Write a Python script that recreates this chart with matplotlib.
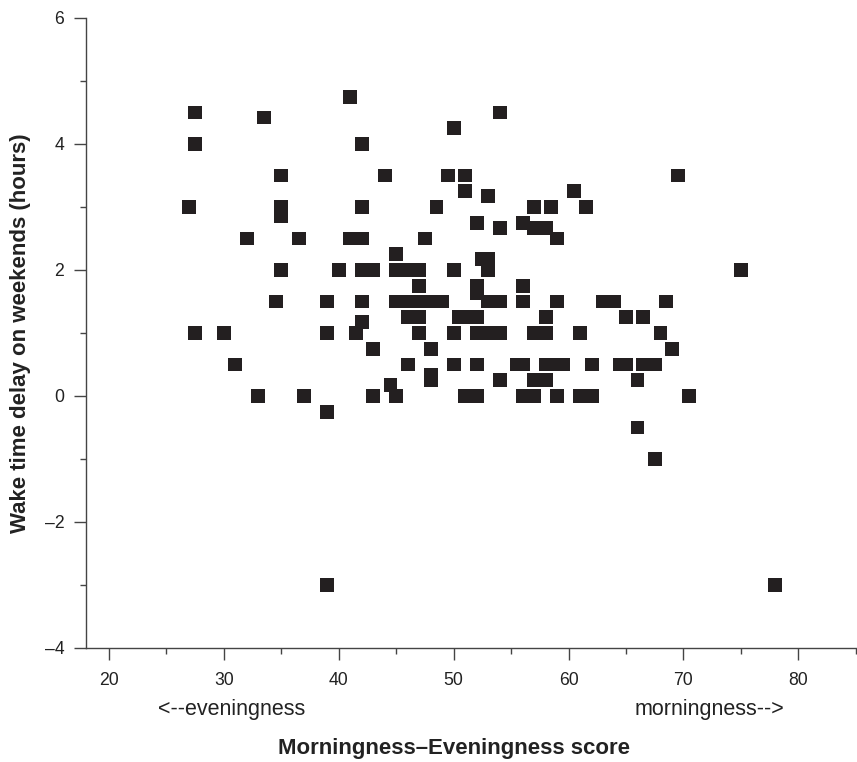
import matplotlib
matplotlib.use('Agg')
import matplotlib.pyplot as plt
from matplotlib.ticker import MultipleLocator

plt.rcParams['font.family'] = ['Liberation Sans', 'DejaVu Sans']

# Morningness-Eveningness score and weekend wake time delay, read row by row
me_score = [41,
            27.5, 54,
            33.5,
            50,
            27.5, 42,
            35, 44, 49.5, 51, 69.5,
            51, 60.5,
            53,
            27, 35, 42, 48.5, 57, 58.5, 61.5,
            35,
            52, 56,
            54, 57, 58,
            32, 36.5, 41, 42, 47.5, 59,
            45,
            52.5, 53,
            35, 40, 42, 43, 45, 46, 47, 50, 53, 75,
            47, 52, 56,
            52,
            34.5, 39, 42, 45, 46, 47, 48, 49, 53, 54, 56, 59, 63, 64, 68.5,
            46, 47, 50.5, 51.25, 52, 58, 65, 66.5,
            42,
            27.5, 30, 39, 41.5, 47, 50, 52, 53, 54, 57, 58, 61, 68,
            43, 48, 69,
            31, 46, 50, 52, 55.5, 56, 58, 58.75, 59.5, 62, 64.5, 65, 66.5, 67.5,
            48,
            48, 54, 57, 58, 66,
            44.5,
            33, 37, 43, 45, 51, 52, 56, 57, 59, 61, 62, 70.5,
            39,
            66,
            67.5,
            39, 78]

wake_delay = ([4.75] + [4.5] * 2 + [4.42] + [4.25] + [4.0] * 2 + [3.5] * 5
              + [3.25] * 2 + [3.17] + [3.0] * 7 + [2.85] + [2.75] * 2
              + [2.67] * 3 + [2.5] * 6 + [2.25] + [2.17] * 2 + [2.0] * 10
              + [1.75] * 3 + [1.63] + [1.5] * 15 + [1.25] * 8 + [1.18]
              + [1.0] * 13 + [0.75] * 3 + [0.5] * 14 + [0.33] + [0.25] * 5
              + [0.17] + [0.0] * 12 + [-0.25] + [-0.5] + [-1.0] + [-3.0] * 2)

x_ticks = [20, 30, 40, 50, 60, 70, 80]
y_ticks = [-4, -2, 0, 2, 4, 6]

fig = plt.figure(figsize=(8.57, 7.62), dpi=100)
ax = fig.add_axes([86 / 857, 114 / 762, 771 / 857, 630 / 762])

ax.scatter(me_score, wake_delay, marker='s', s=100, color='#231f20',
           edgecolors='none', zorder=3, clip_on=False)

ax.set_xlim(18, 85.1)
ax.set_ylim(-4, 6)
ax.set_xticks(x_ticks)
ax.set_yticks(y_ticks)
ax.xaxis.set_minor_locator(MultipleLocator(5))
ax.yaxis.set_minor_locator(MultipleLocator(1))
ax.yaxis.set_major_formatter(plt.FuncFormatter(lambda v, p: f'{v:.0f}'.replace('-', '\u2013')))

for s in ['top', 'right']:
    ax.spines[s].set_visible(False)
for s in ['left', 'bottom']:
    ax.spines[s].set_color('#444444')
    ax.spines[s].set_linewidth(1.0)

ax.tick_params(which='major', direction='out', length=8.6, width=1.0,
               color='#444444', labelsize=12.7, labelcolor='#222222')
ax.tick_params(which='minor', direction='out', length=4.3, width=1.0,
               color='#444444')
ax.tick_params(axis='x', which='major', pad=9)
ax.tick_params(axis='y', which='major', pad=7)

ax.set_ylabel('Wake time delay on weekends (hours)', fontsize=16,
              fontweight='bold', color='#222222', va='center')
ax.yaxis.set_label_coords((21 - 86) / 771, 0.5)
ax.set_xlabel('Morningness\u2013Eveningness score', fontsize=16,
              fontweight='bold', color='#222222')
ax.xaxis.set_label_coords((50 - 18) / (85.1 - 18), -0.143)

ax.text(30.65, -4.97, '<--eveningness', fontsize=15.5, color='#222222',
        ha='center', va='center')
ax.text(72.3, -4.97, 'morningness-->', fontsize=15.5, color='#222222',
        ha='center', va='center')

fig.savefig('out.png', dpi=100)
